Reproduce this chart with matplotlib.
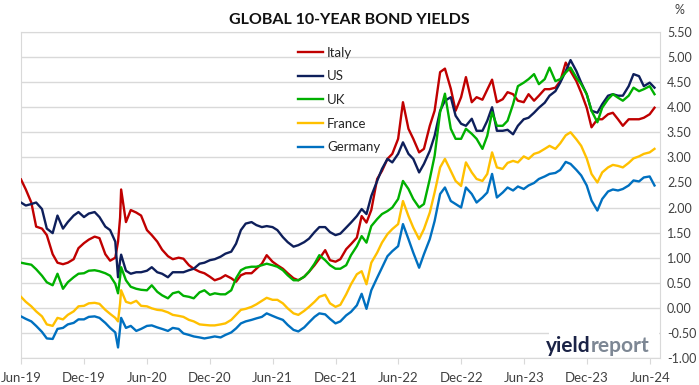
import pandas as pd
import matplotlib
matplotlib.use("Agg")
import matplotlib.pyplot as plt
import matplotlib.dates as mdates
from matplotlib.patches import Rectangle

plt.rcParams['font.family'] = ['Lato', 'DejaVu Sans']

# semi-monthly points (1st and 15th), plus the two March 2020 turning points
semi = []
for yr in range(2019, 2025):
    for mo in range(1, 13):
        for d in (1, 15):
            t = pd.Timestamp(yr, mo, d)
            if pd.Timestamp(2019, 6, 1) <= t <= pd.Timestamp(2024, 6, 15):
                semi.append(t)
dates = sorted(semi + [pd.Timestamp(2020, 3, 9), pd.Timestamp(2020, 3, 18)])

italy = [2.56, 2.36, 2.10, 1.62, 1.58, 1.45, 1.07, 0.90, 0.87, 0.90, 0.97, 1.19, 1.29, 1.36, 1.42, 1.39, 1.07, 0.94, 1.00,
         1.32, 1.80, 2.36,
         1.71, 1.95, 1.90, 1.84, 1.55, 1.45, 1.32, 1.16, 1.03, 0.97, 1.00, 0.98, 0.85, 0.78, 0.72, 0.69, 0.62, 0.55, 0.59,
         0.65, 0.59, 0.52, 0.65, 0.69, 0.69, 0.78, 0.88, 1.05, 0.92, 0.85, 0.78, 0.69, 0.59, 0.55, 0.62, 0.72, 0.85, 0.98,
         1.15, 0.95, 0.92, 0.97, 1.17, 1.27, 1.40, 1.83, 1.70, 1.95, 2.57, 2.73, 2.97, 3.07, 3.37, 4.10, 3.57, 3.37, 3.10,
         3.17, 3.63, 3.93, 4.70, 4.77, 4.37, 3.93, 4.20, 4.60, 4.10, 4.20, 4.15, 4.35, 4.55, 4.10, 4.16, 4.30, 4.26, 4.13,
         4.10, 4.26, 4.13, 4.23, 4.36, 4.36, 4.39, 4.52, 4.89, 4.72, 4.52, 4.29, 3.99, 3.60, 3.76, 3.76, 3.86, 3.89, 3.76,
         3.63, 3.76, 3.76, 3.76, 3.79, 3.86, 3.99]
us = [2.10, 2.04, 2.07, 2.10, 1.97, 1.58, 1.49, 1.84, 1.58, 1.71, 1.84, 1.91, 1.81, 1.88, 1.91, 1.81, 1.62, 1.55, 1.32,
      0.61, 0.94, 1.06,
      0.74, 0.68, 0.71, 0.71, 0.74, 0.81, 0.71, 0.68, 0.61, 0.71, 0.71, 0.71, 0.75, 0.78, 0.88, 0.90, 0.95, 0.97, 1.02,
      1.08, 1.12, 1.28, 1.55, 1.68, 1.71, 1.65, 1.61, 1.63, 1.61, 1.55, 1.41, 1.31, 1.22, 1.25, 1.31, 1.38, 1.51, 1.61,
      1.61, 1.51, 1.45, 1.48, 1.60, 1.70, 1.83, 1.97, 1.87, 2.23, 2.53, 2.77, 2.97, 2.90, 3.07, 3.30, 3.07, 2.97, 2.70,
      2.87, 3.13, 3.43, 3.93, 4.13, 4.20, 3.83, 3.67, 3.63, 3.77, 3.53, 3.53, 3.73, 4.00, 3.53, 3.53, 3.55, 3.46, 3.63,
      3.76, 3.79, 3.89, 3.99, 4.09, 4.23, 4.32, 4.49, 4.72, 4.94, 4.72, 4.49, 4.26, 3.93, 3.89, 4.06, 4.23, 4.26, 4.23,
      4.23, 4.42, 4.66, 4.62, 4.42, 4.49, 4.39]
uk = [0.90, 0.88, 0.86, 0.77, 0.64, 0.51, 0.45, 0.68, 0.38, 0.51, 0.61, 0.68, 0.69, 0.74, 0.75, 0.73, 0.69, 0.64, 0.48,
      0.29, 0.61, 0.81,
      0.55, 0.42, 0.38, 0.36, 0.35, 0.45, 0.32, 0.25, 0.19, 0.29, 0.32, 0.24, 0.22, 0.19, 0.31, 0.35, 0.26, 0.29, 0.27,
      0.27, 0.35, 0.59, 0.75, 0.80, 0.82, 0.82, 0.85, 0.88, 0.85, 0.82, 0.75, 0.65, 0.55, 0.55, 0.62, 0.72, 0.88, 1.05,
      0.95, 0.85, 0.78, 0.78, 0.85, 1.05, 1.23, 1.43, 1.30, 1.63, 1.77, 1.87, 1.93, 2.00, 2.17, 2.53, 2.37, 2.17, 2.00,
      2.07, 2.57, 3.03, 3.90, 4.27, 3.57, 3.37, 3.37, 3.57, 3.47, 3.37, 3.17, 3.43, 3.90, 3.63, 3.63, 3.73, 4.06, 4.42,
      4.49, 4.56, 4.66, 4.46, 4.56, 4.79, 4.52, 4.56, 4.69, 4.79, 4.59, 4.46, 4.26, 3.93, 3.70, 3.99, 4.16, 4.26, 4.19,
      4.13, 4.23, 4.39, 4.32, 4.36, 4.42, 4.26]
france = [0.22, 0.12, 0.03, -0.07, -0.17, -0.33, -0.36, -0.20, -0.23, -0.14, -0.07, 0.03, 0.04, 0.09, 0.10, 0.08, -0.04,
          -0.12, -0.20,
          -0.27, 0.09, 0.35,
          0.12, 0.09, 0.14, 0.04, 0.03, -0.01, -0.04, -0.05, -0.09, -0.14, -0.16, -0.18, -0.24, -0.27, -0.33, -0.34,
          -0.35, -0.35, -0.33, -0.31, -0.24, -0.14, -0.04, -0.02, 0.02, 0.07, 0.14, 0.20, 0.16, 0.16, 0.09, -0.01, -0.11,
          -0.14, -0.06, 0.02, 0.12, 0.22, 0.26, 0.09, 0.02, 0.06, 0.27, 0.47, 0.67, 0.73, 0.47, 0.90, 1.10, 1.30, 1.47,
          1.57, 1.67, 2.13, 1.83, 1.60, 1.37, 1.57, 1.90, 2.30, 2.80, 2.97, 2.73, 2.53, 2.43, 2.90, 2.70, 2.57, 2.53,
          2.67, 3.10, 2.80, 2.77, 2.89, 2.93, 2.90, 3.02, 2.97, 3.07, 3.10, 3.17, 3.23, 3.17, 3.28, 3.44, 3.50, 3.36,
          3.23, 2.98, 2.67, 2.50, 2.70, 2.80, 2.85, 2.83, 2.80, 2.89, 2.98, 3.02, 3.07, 3.10, 3.17]
germany = [-0.17, -0.22, -0.27, -0.36, -0.48, -0.61, -0.62, -0.42, -0.40, -0.33, -0.30, -0.23, -0.23, -0.18, -0.17,
           -0.20, -0.30, -0.40, -0.49,
           -0.79, -0.40, -0.20,
           -0.40, -0.36, -0.46, -0.42, -0.36, -0.35, -0.39, -0.42, -0.46, -0.40, -0.42, -0.51, -0.54, -0.57, -0.59,
           -0.61, -0.59, -0.57, -0.59, -0.54, -0.49, -0.41, -0.31, -0.27, -0.24, -0.21, -0.18, -0.11, -0.16, -0.20,
           -0.24, -0.34, -0.44, -0.47, -0.39, -0.29, -0.18, -0.11, -0.13, -0.22, -0.31, -0.27, -0.15, -0.08, 0.05,
           0.28, -0.02, 0.35, 0.60, 0.80, 1.03, 1.13, 1.23, 1.67, 1.37, 1.10, 0.80, 1.07, 1.37, 1.73, 2.27, 2.40, 2.13,
           2.07, 2.00, 2.40, 2.27, 2.10, 2.20, 2.30, 2.67, 2.20, 2.30, 2.40, 2.34, 2.42, 2.37, 2.44, 2.49, 2.57, 2.62,
           2.67, 2.69, 2.75, 2.91, 2.87, 2.75, 2.64, 2.44, 2.14, 1.94, 2.17, 2.32, 2.36, 2.34, 2.37, 2.44, 2.54, 2.52,
           2.60, 2.62, 2.44]

names = ["Italy", "US", "UK", "France", "Germany"]
colors = ["#C00000", "#0E1F5B", "#00B000", "#FFC000", "#0070C0"]
series = [italy, us, uk, france, germany]

fig = plt.figure(figsize=(6.99, 3.85), dpi=100)
ax = fig.add_axes([21 / 699, 1 - 358 / 385, 639 / 699, 326 / 385])

for name, col, vals in zip(names, colors, series):
    ax.plot(dates, vals, color=col, lw=1.7, label=name, zorder=3)

ax.set_xlim(pd.Timestamp(2019, 6, 1), pd.Timestamp(2024, 7, 1))
ax.set_ylim(-1.0, 5.5)
ax.set_yticks([i * 0.5 - 1.0 for i in range(14)])
ax.yaxis.set_major_formatter(plt.FuncFormatter(lambda v, p: "%.2f" % v))
ax.yaxis.tick_right()
ax.tick_params(axis='y', length=0, pad=5, labelsize=9, labelcolor="#404040")
ax.xaxis.set_major_locator(mdates.MonthLocator(bymonth=[6, 12]))
ax.xaxis.set_major_formatter(mdates.DateFormatter("%b-%y"))
ax.tick_params(axis='x', length=4, color="#D9D9D9", labelsize=9.5, labelcolor="#404040", pad=6)
ax.grid(axis='y', color="#D9D9D9", lw=1)
ax.set_axisbelow(True)
for s in ax.spines.values():
    s.set_color("#D9D9D9")

leg = ax.legend(loc='upper left', bbox_to_anchor=(0.423, 0.975), frameon=False, fontsize=9.5,
                handlelength=1.9, handletextpad=0.3, labelspacing=0.88, borderpad=0)
for t in leg.get_texts():
    t.set_color("#262626")

fig.text(0.5, 0.948, "GLOBAL 10-YEAR BOND YIELDS", ha='center', va='center', fontsize=11.5, fontweight='bold',
         color="#111111")
fig.text(679 / 699, 1 - 10 / 385, "%", ha='center', va='center', fontsize=9, color="#404040")

# yieldreport logo
fig.add_artist(Rectangle((549 / 699, 1 - 357 / 385), 110 / 699, 26 / 385, transform=fig.transFigure,
                         facecolor='white', edgecolor='none', zorder=4))
fig.text(591 / 699, 1 - 352 / 385, "yield", ha='right', va='baseline', fontsize=15, fontweight='bold',
         color="#1B2346", zorder=5)
fig.text(591 / 699, 1 - 352 / 385, "report", ha='left', va='baseline', fontsize=15, fontweight='bold',
         color="#7D8794", zorder=5)

fig.savefig("out.png", dpi=100)
